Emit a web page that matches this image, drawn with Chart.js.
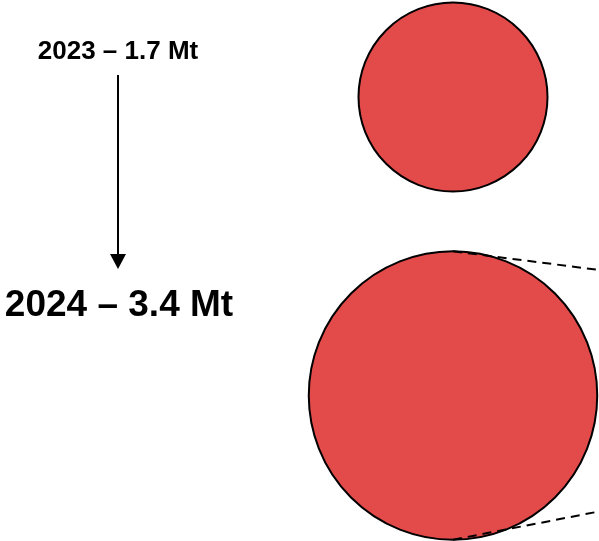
<!DOCTYPE html>
<html>
<head>
<meta charset="utf-8">
<script src="https://cdn.jsdelivr.net/npm/chart.js@4"></script>
<style>
  html, body { margin: 0; padding: 0; background: #fff; }
  #wrap { width: 599px; height: 541px; }
</style>
</head>
<body>
<div id="wrap"><canvas id="chart"></canvas></div>
<script>
// 年份與產量 (Mt)
const years = ['2023', '2024'];
const volumes = [1.7, 3.4];

// 泡泡半徑依產量換算
function radiusFor(v) {
  return 94.5 * Math.pow(v / volumes[0], 0.61);
}

// 左側文字、箭頭與右側虛線
const decorations = {
  id: 'decorations',
  afterDatasetsDraw(chart, args, opts) {
    const ctx = chart.ctx;
    const pts = chart.getDatasetMeta(0).data;
    ctx.save();
    ctx.fillStyle = '#000';
    ctx.textAlign = 'center';
    ctx.textBaseline = 'alphabetic';
    opts.labels.forEach((lb, i) => {
      ctx.font = `bold ${lb.size}px "Liberation Sans", Arial, sans-serif`;
      ctx.fillText(`${years[i]} – ${volumes[i]} Mt`, lb.x, lb.y);
    });

    // 箭頭
    const a = opts.arrow;
    ctx.strokeStyle = '#000';
    ctx.lineWidth = 2;
    ctx.beginPath();
    ctx.moveTo(a.x, a.y1);
    ctx.lineTo(a.x, a.y2 - a.head);
    ctx.stroke();
    ctx.beginPath();
    ctx.moveTo(a.x - a.half, a.y2 - a.head);
    ctx.lineTo(a.x + a.half, a.y2 - a.head);
    ctx.lineTo(a.x, a.y2);
    ctx.closePath();
    ctx.fill();

    // 大泡泡的延伸虛線
    const big = pts[1];
    const r = big.options.radius;
    const right = chart.width;
    ctx.setLineDash([9, 6]);
    ctx.lineWidth = 2;
    ctx.beginPath();
    ctx.moveTo(big.x, big.y - r);
    ctx.lineTo(right, opts.dashEnds[0]);
    ctx.moveTo(big.x, big.y + r);
    ctx.lineTo(right, opts.dashEnds[1]);
    ctx.stroke();
    ctx.restore();
  }
};

new Chart(document.getElementById('chart'), {
  type: 'bubble',
  data: {
    labels: years,
    datasets: [{
      data: years.map((y, i) => ({ x: 0, y: y, r: radiusFor(volumes[i]) })),
      backgroundColor: '#e34b4a',
      borderColor: '#000',
      borderWidth: 2,
      hoverRadius: 0,
      clip: false
    }]
  },
  options: {
    responsive: true,
    maintainAspectRatio: false,
    animation: false,
    layout: { autoPadding: false, padding: { left: 307, right: 0, top: 97, bottom: 145.5 } },
    scales: {
      x: { type: 'linear', min: -1, max: 1, display: false },
      y: { type: 'category', labels: years, offset: false, display: false }
    },
    plugins: {
      legend: { display: false },
      tooltip: { enabled: false },
      decorations: {
        labels: [{ x: 118, y: 59, size: 26 }, { x: 119, y: 316, size: 37 }],
        arrow: { x: 118, y1: 75, y2: 269, head: 15, half: 8 },
        dashEnds: [270, 511.5]
      }
    }
  },
  plugins: [decorations]
});
</script>
</body>
</html>
